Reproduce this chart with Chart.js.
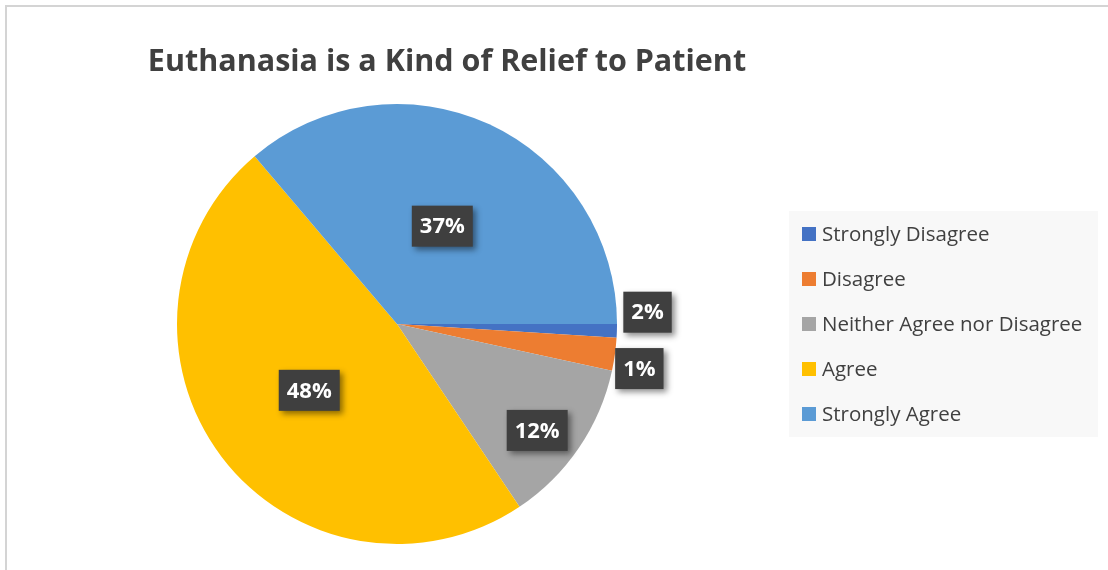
<!DOCTYPE html>
<html>
<head>
<meta charset="utf-8">
<script src="https://cdn.jsdelivr.net/npm/chart.js@4.4.1/dist/chart.umd.min.js"></script>
<style>
  html, body { margin: 0; padding: 0; background: #fff; }
  #wrap { position: relative; width: 1108px; height: 570px; overflow: hidden; }
  #frame { position: absolute; left: 5px; top: 5px; width: 1200px; height: 700px;
           border-left: 2px solid #d4d4d4; border-top: 2px solid #d4d4d4; }
  canvas { position: absolute; left: 0; top: 0; }
</style>
</head>
<body>
<div id="wrap">
  <div id="frame"></div>
  <canvas id="pie" width="1108" height="570"></canvas>
</div>
<script>
// Data
const categories = ['Strongly Disagree', 'Disagree', 'Neither Agree nor Disagree', 'Agree', 'Strongly Agree'];
const values     = [1, 2.4, 12.2, 48.2, 36.2];
const valueLabels = ['2%', '1%', '12%', '48%', '37%'];
const title = 'Euthanasia is a Kind of Relief to Patient';

// Colour palette
const C = {
  slices: ['#4472C4', '#ED7D31', '#A5A5A5', '#FFC000', '#5B9BD5'],
  text:   '#404040',
  box:    '#3f3f3f',
  legendBg: '#f8f8f8',
};
const FONT = "'Open Sans', 'Noto Sans', sans-serif";

// label placement per slice: radial factor and small angle nudge (deg)
const labelPos = [
  { r: 1.14, da: -4.5 },
  { r: 1.12, da: 2.5 },
  { r: 0.80, da: 3 },
  { r: 0.50, da: 0 },
  { r: 0.49, da: 0 },
];

const overlay = {
  id: 'overlay',
  afterDraw(chart) {
    const ctx = chart.ctx;
    const meta = chart.getDatasetMeta(0);

    // ── Title ──────────────────────────────────────────────────────────
    ctx.save();
    ctx.fillStyle = C.text;
    ctx.font = `bold 30.5px ${FONT}`;
    ctx.textAlign = 'center';
    ctx.textBaseline = 'middle';
    ctx.fillText(title, 447, 62);
    ctx.restore();

    // ── Data labels ────────────────────────────────────────────────────
    meta.data.forEach((arc, i) => {
      const p = arc.getProps(['x', 'y', 'startAngle', 'endAngle', 'outerRadius'], true);
      const mid = (p.startAngle + p.endAngle) / 2 + labelPos[i].da * Math.PI / 180;
      const r = p.outerRadius * labelPos[i].r;
      const x = p.x + Math.cos(mid) * r;
      const y = p.y + Math.sin(mid) * r;
      ctx.save();
      ctx.font = `bold 22px ${FONT}`;
      const w = ctx.measureText(valueLabels[i]).width + 16;
      const h = 41;
      ctx.shadowColor = 'rgba(0,0,0,0.45)';
      ctx.shadowBlur = 6;
      ctx.shadowOffsetX = 3;
      ctx.shadowOffsetY = 3;
      ctx.fillStyle = C.box;
      ctx.fillRect(x - w / 2, y - h / 2, w, h);
      ctx.shadowColor = 'transparent';
      ctx.fillStyle = '#ffffff';
      ctx.textAlign = 'center';
      ctx.textBaseline = 'middle';
      ctx.fillText(valueLabels[i], x, y + 1);
      ctx.restore();
    });

    // ── Legend ─────────────────────────────────────────────────────────
    ctx.save();
    ctx.fillStyle = C.legendBg;
    ctx.fillRect(789, 211, 309, 226);
    ctx.font = `20.5px ${FONT}`;
    ctx.textBaseline = 'middle';
    categories.forEach((c, i) => {
      const y = 234 + i * 45;
      ctx.fillStyle = C.slices[i];
      ctx.fillRect(802, y - 7, 14, 14);
      ctx.fillStyle = C.text;
      ctx.fillText(c, 822, y + 1);
    });
    ctx.restore();
  }
};

new Chart(document.getElementById('pie'), {
  type: 'pie',
  data: {
    labels: categories,
    datasets: [{
      data: values,
      backgroundColor: C.slices,
      borderWidth: 0,
    }],
  },
  options: {
    responsive: false,
    animation: false,
    rotation: 90,
    layout: { padding: { left: 177, right: 491, top: 104, bottom: 26 } },
    plugins: {
      legend: { display: false },
      tooltip: { enabled: false },
      title: { display: false },
    },
  },
  plugins: [overlay],
});
</script>
</body>
</html>
